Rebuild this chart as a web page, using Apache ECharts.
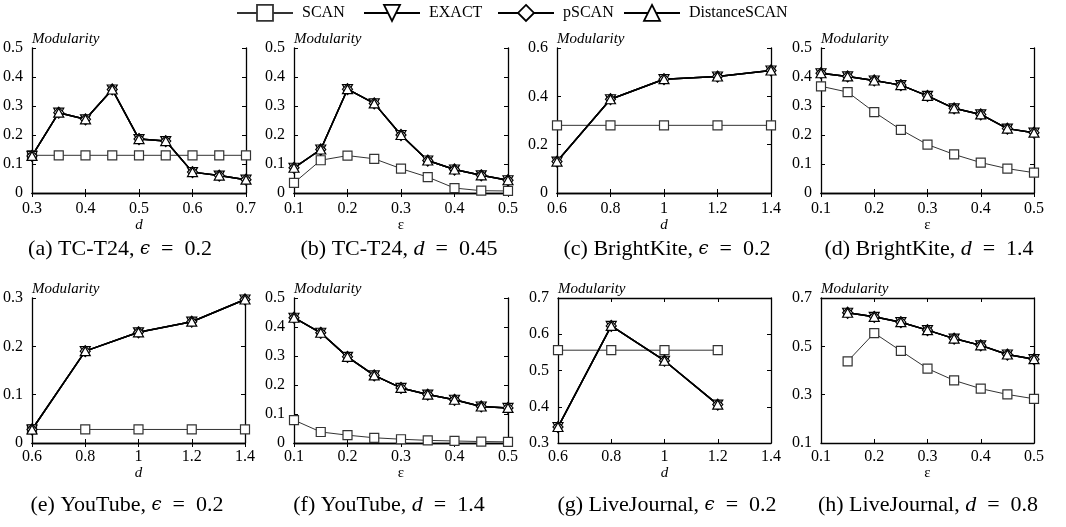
<!DOCTYPE html>
<html>
<head>
<meta charset="utf-8">
<script src="https://cdn.jsdelivr.net/npm/echarts@6/dist/echarts.min.js"></script>
<style>
  html,body{margin:0;padding:0;background:#fff;}
  #chart{width:1066px;height:527px;}
</style>
</head>
<body>
<div id="chart"></div>
<script>
// ===== Data
const seriesNames = ['SCAN','EXACT','pSCAN','DistanceSCAN'];

const xTC  = [0.3,0.35,0.4,0.45,0.5,0.55,0.6,0.65,0.7];
const xEps = [0.1,0.15,0.2,0.25,0.3,0.35,0.4,0.45,0.5];
const xD   = [0.6,0.8,1.0,1.2,1.4];
const xDlj = [0.6,0.8,1.0,1.2];
const xEpsLj = [0.15,0.2,0.25,0.3,0.35,0.4,0.45,0.5];

// SCAN vs. the three exact methods (EXACT, pSCAN, DistanceSCAN coincide)
const scanA = [0.13,0.13,0.13,0.13,0.13,0.13,0.13,0.13,0.13];
const exactA = [0.128,0.277,0.254,0.357,0.186,0.179,0.072,0.06,0.046];
const scanB = [0.035,0.113,0.129,0.118,0.084,0.055,0.017,0.008,0.007];
const exactB = [0.087,0.15,0.358,0.309,0.2,0.112,0.081,0.061,0.044];
const scanC = [0.28,0.28,0.28,0.28,0.28];
const exactC = [0.13,0.388,0.471,0.482,0.507];
const scanD = [0.368,0.348,0.279,0.218,0.167,0.133,0.105,0.084,0.07];
const exactD = [0.413,0.402,0.388,0.372,0.335,0.292,0.271,0.222,0.208];
const scanE = [0.028,0.028,0.028,0.028,0.028];
const exactE = [0.028,0.19,0.229,0.251,0.297];
const scanF = [0.079,0.038,0.027,0.018,0.013,0.009,0.007,0.005,0.004];
const exactF = [0.432,0.38,0.297,0.233,0.19,0.167,0.149,0.126,0.121];
const scanG = [0.556,0.556,0.556,0.556];
const exactG = [0.344,0.623,0.527,0.406];
const scanH = [0.438,0.555,0.481,0.408,0.359,0.325,0.301,0.283];
const exactH = [0.639,0.622,0.6,0.567,0.532,0.504,0.466,0.447];

const captions = [
  '(a) TC-T24, {m|ϵ}  =  0.2', '(b) TC-T24, {i|d}  =  0.45', '(c) BrightKite, {m|ϵ}  =  0.2', '(d) BrightKite, {i|d}  =  1.4',
  '(e) YouTube, {m|ϵ}  =  0.2', '(f) YouTube, {i|d}  =  1.4', '(g) LiveJournal, {m|ϵ}  =  0.2', '(h) LiveJournal, {i|d}  =  0.8'
];

// ===== Panels
const PANELS = [
  {x:xTC,  scan:scanA, exact:exactA, xr:[0.3,0.7,0.1], yr:[0,0.5,0.1], xname:'d'},
  {x:xEps, scan:scanB, exact:exactB, xr:[0.1,0.5,0.1], yr:[0,0.5,0.1], xname:'ε'},
  {x:xD,   scan:scanC, exact:exactC, xr:[0.6,1.4,0.2], yr:[0,0.6,0.2], xname:'d'},
  {x:xEps, scan:scanD, exact:exactD, xr:[0.1,0.5,0.1], yr:[0,0.5,0.1], xname:'ε'},
  {x:xD,   scan:scanE, exact:exactE, xr:[0.6,1.4,0.2], yr:[0,0.3,0.1], xname:'d'},
  {x:xEps, scan:scanF, exact:exactF, xr:[0.1,0.5,0.1], yr:[0,0.5,0.1], xname:'ε'},
  {x:xDlj, scan:scanG, exact:exactG, xr:[0.6,1.4,0.2], yr:[0.3,0.7,0.1], xname:'d'},
  {x:xEpsLj, scan:scanH, exact:exactH, xr:[0.1,0.5,0.1], yr:[0.1,0.7,0.2], xname:'ε'}
];
const BOX = [
  [32,48,214],[294,48,214],[557,48,214],[821,48,213],
  [32,298,213],[294,298,214],[558,298,213],[821,298,213]
];
const CAP_X = [120,399,667,929,127,389,667,928];
const H = 145;
const SERIF = '"Liberation Serif","Times New Roman",serif';

const grid=[], xAxis=[], yAxis=[], series=[], title=[];
const tickInside = {show:true, inside:true, length:4, lineStyle:{color:'#000',width:1}};
const axLine = {show:true, lineStyle:{color:'#000',width:1.3}};
const triDown = 'path://M0,0 L10,0 L5,9 Z';
const triUp = 'path://M5,0 L10,9 L0,9 Z';

PANELS.forEach((p,i)=>{
  const [l,t,w] = BOX[i];
  const row2 = i>=4;
  grid.push({left:l, top:t, width:w, height:H, containLabel:false});
  // bottom + top x axes
  xAxis.push({type:'value', gridIndex:i, min:p.xr[0], max:p.xr[1], interval:p.xr[2], position:'bottom',
    axisLine:axLine, axisTick:tickInside, splitLine:{show:false},
    axisLabel:{color:'#000', fontFamily:SERIF, fontSize:16, margin:row2?6:8},
    name:p.xname, nameLocation:'middle', nameGap:row2?20:24,
    nameTextStyle:{color:'#000', fontFamily:SERIF, fontSize:15, fontStyle:p.xname==='d'?'italic':'normal'}});
  xAxis.push({type:'value', gridIndex:i, min:p.xr[0], max:p.xr[1], interval:p.xr[2], position:'top',
    axisLine:axLine, axisTick:tickInside, axisLabel:{show:false}, splitLine:{show:false}});
  // left + right y axes
  yAxis.push({type:'value', gridIndex:i, min:p.yr[0], max:p.yr[1], interval:p.yr[2], position:'left',
    axisLine:axLine, axisTick:tickInside, splitLine:{show:false},
    axisLabel:{color:'#000', fontFamily:SERIF, fontSize:16, margin:9},
    name:'Modularity', nameLocation:'end', nameGap:9,
    nameTextStyle:{color:'#000', fontFamily:SERIF, fontSize:15, fontStyle:'italic', align:'left', verticalAlign:'middle'}});
  yAxis.push({type:'value', gridIndex:i, min:p.yr[0], max:p.yr[1], interval:p.yr[2], position:'right',
    axisLine:axLine, axisTick:tickInside, axisLabel:{show:false}, splitLine:{show:false}});

  const mk = (name, vals, sym, size, lw, lc) => ({
    name, type:'line', xAxisIndex:2*i, yAxisIndex:2*i, clip:false,
    data: p.x.map((x,k)=>[x, vals[k]]),
    symbol:sym, symbolSize:size, showSymbol:true,
    lineStyle:{color:lc, width:lw},
    itemStyle:{color:'#fff', borderColor:lc, borderWidth:1.2},
    emphasis:{disabled:true}, animation:false
  });
  series.push(mk('SCAN', p.scan, 'rect', 9, 1, '#333'));
  series.push(mk('EXACT', p.exact, triDown, [10,9], 1.5, '#000'));
  series.push(mk('pSCAN', p.exact, 'diamond', [10,11], 1.5, '#000'));
  series.push(mk('DistanceSCAN', p.exact, triUp, [10,9], 1.5, '#000'));

  title.push({text:captions[i], left:CAP_X[i], top:row2?494:238, textAlign:'center', padding:0,
    textStyle:{color:'#000', fontFamily:SERIF, fontSize:22, fontWeight:'normal',
      rich:{i:{fontFamily:SERIF, fontSize:22, fontStyle:'italic', color:'#000'},
            m:{fontFamily:'"DejaVu Serif",serif', fontSize:18, fontStyle:'italic', color:'#000'}}}});
});

// one legend per entry so each sits where it does in the figure
const LEG_X = [236,363,497,623];
const legend = seriesNames.map((n,k)=>({
  data:[n], left:LEG_X[k], top:4, padding:0, itemWidth:56, itemHeight:20, selectedMode:false,
  textStyle:{color:'#000', fontFamily:SERIF, fontSize:16, padding:[0,0,0,4]},
  itemStyle:{borderWidth:1.8}, lineStyle:{width:2}
}));

const chart = echarts.init(document.getElementById('chart'), null, {renderer:'canvas'});
chart.setOption({backgroundColor:'#fff', animation:false, title, legend, grid, xAxis, yAxis, series});
</script>
</body>
</html>
